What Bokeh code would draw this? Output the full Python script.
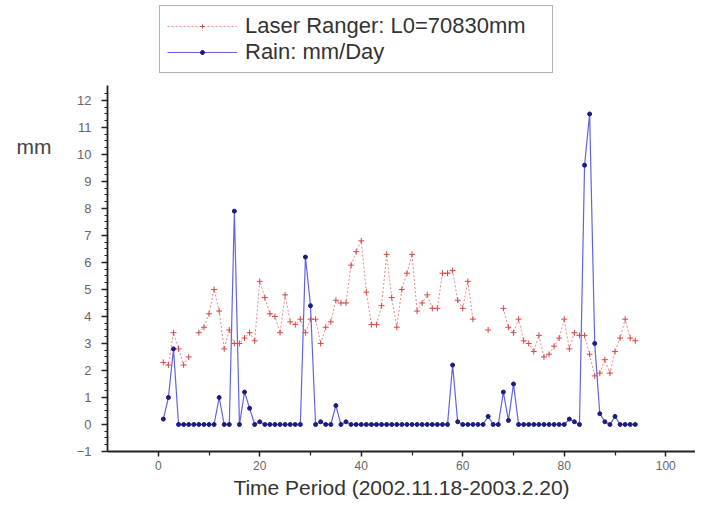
from bokeh.plotting import figure
from bokeh.models import (Legend, LegendItem, Range1d, FixedTicker, LinearAxis,
                          ColumnDataSource)
from bokeh.embed import file_html
from bokeh.resources import INLINE

nan = float("nan")

days = [1, 2, 3, 4, 5, 6, 7, 8, 9, 10, 11, 12, 13, 14, 15, 16, 17, 18, 19, 20,
        21, 22, 23, 24, 25, 26, 27, 28, 29, 30, 31, 32, 33, 34, 35, 36, 37, 38, 39, 40,
        41, 42, 43, 44, 45, 46, 47, 48, 49, 50, 51, 52, 53, 54, 55, 56, 57, 58, 59, 60,
        61, 62, 63, 64, 65, 66, 67, 68, 69, 70, 71, 72, 73, 74, 75, 76, 77, 78, 79, 80,
        81, 82, 83, 84, 85, 86, 87, 88, 89, 90, 91, 92, 93, 94]

rain = [0.2, 1.0, 2.8, 0.0, 0.0, 0.0, 0.0, 0.0, 0.0, 0.0, 0.0, 1.0, 0.0, 0.0, 7.9, 0.0, 1.2, 0.6, 0.0, 0.1,
        0.0, 0.0, 0.0, 0.0, 0.0, 0.0, 0.0, 0.0, 6.2, 4.4, 0.0, 0.1, 0.0, 0.0, 0.7, 0.0, 0.1, 0.0, 0.0, 0.0,
        0.0, 0.0, 0.0, 0.0, 0.0, 0.0, 0.0, 0.0, 0.0, 0.0, 0.0, 0.0, 0.0, 0.0, 0.0, 0.0, 0.0, 2.2, 0.1, 0.0,
        0.0, 0.0, 0.0, 0.0, 0.3, 0.0, 0.0, 1.2, 0.15, 1.5, 0.0, 0.0, 0.0, 0.0, 0.0, 0.0, 0.0, 0.0, 0.0, 0.0,
        0.2, 0.1, 0.0, 9.6, 11.5, 3.0, 0.4, 0.1, 0.0, 0.3, 0.0, 0.0, 0.0, 0.0]

laser = [2.3, 2.2, 3.4, 2.8, 2.2, 2.5, nan, 3.4, 3.6, 4.1, 5.0, 4.2, 2.8, 3.5, 3.0, 3.0, 3.2, 3.4, 3.1, 5.3,
         4.7, 4.1, 4.0, 3.4, 4.8, 3.8, 3.7, 3.9, 3.4, 3.9, 3.9, 3.0, 3.6, 3.8, 4.6, 4.5, 4.5, 5.9, 6.4, 6.8,
         4.9, 3.7, 3.7, 4.4, 6.3, 4.7, 3.6, 5.0, 5.6, 6.3, 4.2, 4.5, 4.8, 4.3, 4.3, 5.6, 5.6, 5.7, 4.6, 4.3,
         5.3, 3.9, nan, nan, 3.5, nan, nan, 4.3, 3.6, 3.4, 3.9, 3.1, 3.0, 2.7, 3.3, 2.5, 2.6, 2.9, 3.2, 3.9,
         2.8, 3.4, 3.3, 3.3, 2.6, 1.8, 1.9, 2.4, 1.9, 2.7, 3.2, 3.9, 3.2, 3.1]

x_major = [0, 20, 40, 60, 80, 100]
x_minor = [10, 30, 50, 70, 90]
y_major = [-1, 0, 1, 2, 3, 4, 5, 6, 7, 8, 9, 10, 11, 12]

legend_labels = ["Laser Ranger: L0=70830mm", "Rain: mm/Day"]
x_title = "Time Period (2002.11.18-2003.2.20)"
y_title = "mm"

FONT = "Liberation Sans"
Y_AXIS_TOP = 12.55

p = figure(width=695, height=502, output_backend="svg", toolbar_location=None,
           x_range=Range1d(-10, 105.86), y_range=Range1d(-1, 15.70),
           min_border_left=107, min_border_right=0, min_border_top=0,
           min_border_bottom=51, background_fill_color="white",
           border_fill_color="white", outline_line_color=None)
p.grid.visible = False

src = ColumnDataSource(dict(x=days, rain=rain, laser=laser))

l1 = p.line("x", "laser", source=src, line_color="#e88a8a", line_width=1,
            line_dash="2 2")
m1 = p.scatter("x", "laser", source=src, marker="cross", size=6,
               line_color="#d84848", line_width=1)
l2 = p.line("x", "rain", source=src, line_color="#6262e2", line_width=1.2)
m2 = p.scatter("x", "rain", source=src, marker="circle", size=4,
               fill_color="#1c1c7c", line_color="#1c1c7c")

for ax in (p.xaxis[0], p.yaxis[0]):
    ax.axis_line_color = "#222222"
    ax.axis_line_width = 1.8
    ax.major_tick_line_color = "#222222"
    ax.minor_tick_line_color = "#222222"
    ax.major_tick_line_width = 1.5
    ax.minor_tick_line_width = 1.2
    ax.major_tick_in = 0
    ax.minor_tick_in = 0
    ax.major_tick_out = 6
    ax.minor_tick_out = 3
    ax.major_label_text_font = FONT
    ax.major_label_text_color = "#666666"
    ax.major_label_text_font_size = "13px"

p.yaxis[0].bounds = (-1, Y_AXIS_TOP)
p.xaxis[0].ticker = FixedTicker(ticks=x_major, minor_ticks=x_minor)
p.yaxis[0].ticker = FixedTicker(ticks=y_major,
                                minor_ticks=[v / 4 for v in range(-4, 50)])
p.xaxis[0].major_tick_out = 5
p.xaxis[0].minor_tick_out = 4
p.xaxis[0].major_label_text_font_size = "12px"
p.xaxis[0].major_label_standoff = 4
p.yaxis[0].major_label_standoff = 10
p.xaxis[0].axis_label = x_title
p.xaxis[0].axis_label_text_font = FONT
p.xaxis[0].axis_label_text_font_style = "normal"
p.xaxis[0].axis_label_text_font_size = "21px"
p.xaxis[0].axis_label_text_color = "#333333"
p.xaxis[0].axis_label_standoff = 3

# "mm" label: the only tick label of an extra, otherwise invisible left axis
p.extra_y_ranges = {"mm": Range1d(-1.3, 15.40)}
mm_axis = LinearAxis(y_range_name="mm", ticker=FixedTicker(ticks=[10]),
                     major_label_overrides={10: y_title},
                     axis_line_color=None, major_tick_line_color=None,
                     minor_tick_line_color=None, major_tick_out=0, major_tick_in=0,
                     minor_tick_out=0, minor_tick_in=0,
                     major_label_standoff=22, major_label_text_font=FONT,
                     major_label_text_font_size="21px",
                     major_label_text_color="#444444")
p.add_layout(mm_axis, "left")

legend = Legend(items=[LegendItem(label=legend_labels[0], renderers=[l1, m1]),
                       LegendItem(label=legend_labels[1], renderers=[l2, m2])],
                location=(52, 378), orientation="vertical",
                label_text_font=FONT, label_text_font_size="22px",
                label_text_color="#333333", glyph_width=70, glyph_height=10,
                label_height=20, label_width=300, spacing=0, padding=7,
                label_standoff=8, border_line_color="#666666",
                border_line_width=1.5, background_fill_alpha=1.0, margin=0)
p.add_layout(legend, "center")

open("out.html", "w").write(file_html(p, INLINE))
